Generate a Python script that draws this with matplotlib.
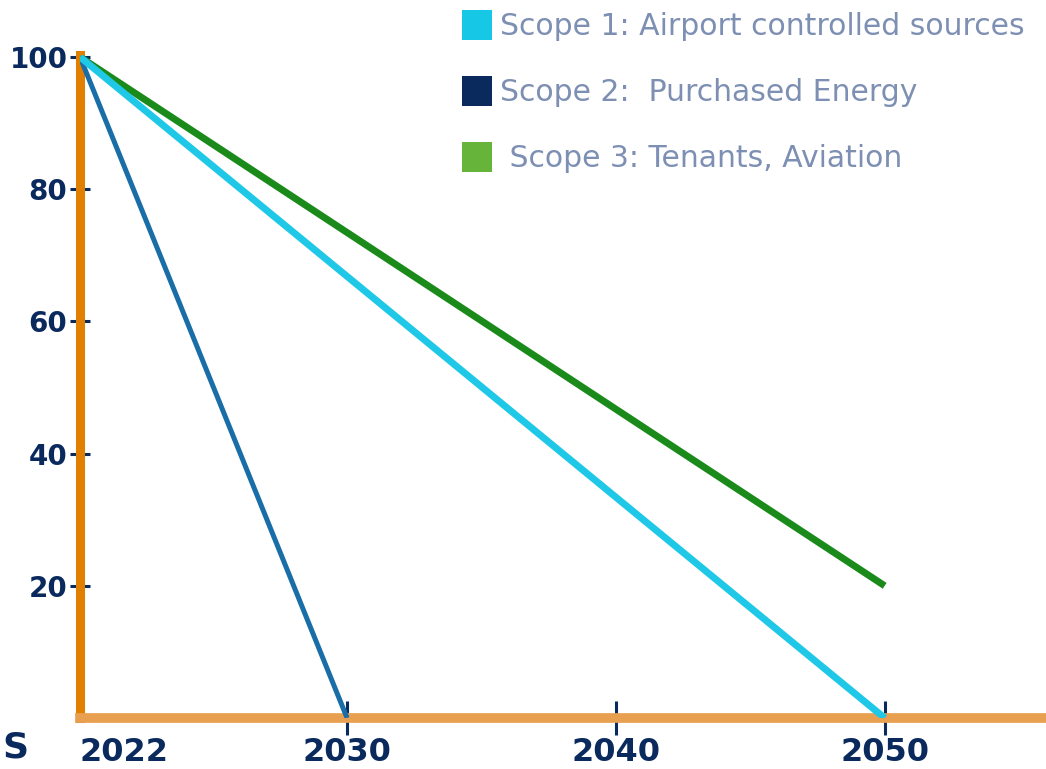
import numpy as np
import matplotlib.pyplot as plt
from matplotlib.patches import Patch

# data
years_s1 = [2022, 2050]
scope1 = [100, 0]
years_s2 = [2022, 2030]
scope2 = [100, 0]
years_s3 = [2022, 2050]
scope3 = [100, 20]

x_ticks = [2022, 2030, 2040, 2050]
y_ticks = [20, 40, 60, 80, 100]

labels = ['Scope 1: Airport controlled sources',
          'Scope 2:  Purchased Energy',
          ' Scope 3: Tenants, Aviation']
patch_colors = ['#17c8e6', '#0a2a5e', '#66b53a']

navy = '#0a2a5e'


# the year axis is stretched between 2022 and 2030
def fwd(x):
    x = np.asarray(x, dtype=float)
    return np.where(x <= 2030, (x - 2022) * 33.4, 267 + (x - 2030) * 26.9)


def inv(p):
    p = np.asarray(p, dtype=float)
    return np.where(p <= 267, 2022 + p / 33.4, 2030 + (p - 267) / 26.9)


fig = plt.figure(figsize=(10.46, 7.69), dpi=100)
ax = fig.add_axes([80 / 1046, 51 / 769, 966 / 1046, 663 / 769])
ax.set_xscale('function', functions=(fwd, inv))

ax.plot(years_s2, scope2, color='#1a6ea8', lw=3.6, solid_capstyle='butt', zorder=3)
ax.plot(years_s3, scope3, color='#1a8a1a', lw=5, solid_capstyle='butt', zorder=3)
ax.plot(years_s1, scope1, color='#1ec8e6', lw=5, solid_capstyle='butt', zorder=4)

ax.set_xlim(2022, 2056)
ax.set_ylim(0, 100.3)

for s in ['top', 'right']:
    ax.spines[s].set_visible(False)
ax.spines['left'].set_color('#e07f00')
ax.spines['left'].set_linewidth(6.5)
ax.spines['bottom'].set_color('#e8a050')
ax.spines['bottom'].set_linewidth(7)

ax.set_xticks(x_ticks)
ax.set_xticklabels([str(y) for y in x_ticks])
ax.set_yticks(y_ticks)
ax.set_yticklabels([str(v) for v in y_ticks])
ax.tick_params(axis='x', direction='inout', length=24, width=2.2, color=navy,
               labelsize=23, labelcolor=navy, pad=2)
ax.tick_params(axis='y', direction='inout', length=14, width=2.2, color=navy,
               labelsize=20, labelcolor=navy, pad=2)
for t in ax.get_xticklabels():
    t.set_fontweight('bold')
for t in ax.get_yticklabels():
    t.set_fontweight('bold')
ax.get_xticklabels()[0].set_horizontalalignment('left')
ax.xaxis.get_major_ticks()[0].tick1line.set_visible(False)

handles = [Patch(facecolor=c, edgecolor='none') for c in patch_colors]
leg = fig.legend(handles, labels, loc='upper left',
                 bbox_to_anchor=(462 / 1046, 1 - 10 / 769),
                 frameon=False, fontsize=21.5, handlelength=1.0,
                 handleheight=1.17, labelspacing=1.17, handletextpad=0.27,
                 borderpad=0, borderaxespad=0)
for t in leg.get_texts():
    t.set_color('#7d8fb3')

fig.text(2 / 1046, 1 - 748 / 769, 'S', color=navy, fontsize=26,
         fontweight='bold', va='center', ha='left')

fig.savefig('out.png', dpi=100)
